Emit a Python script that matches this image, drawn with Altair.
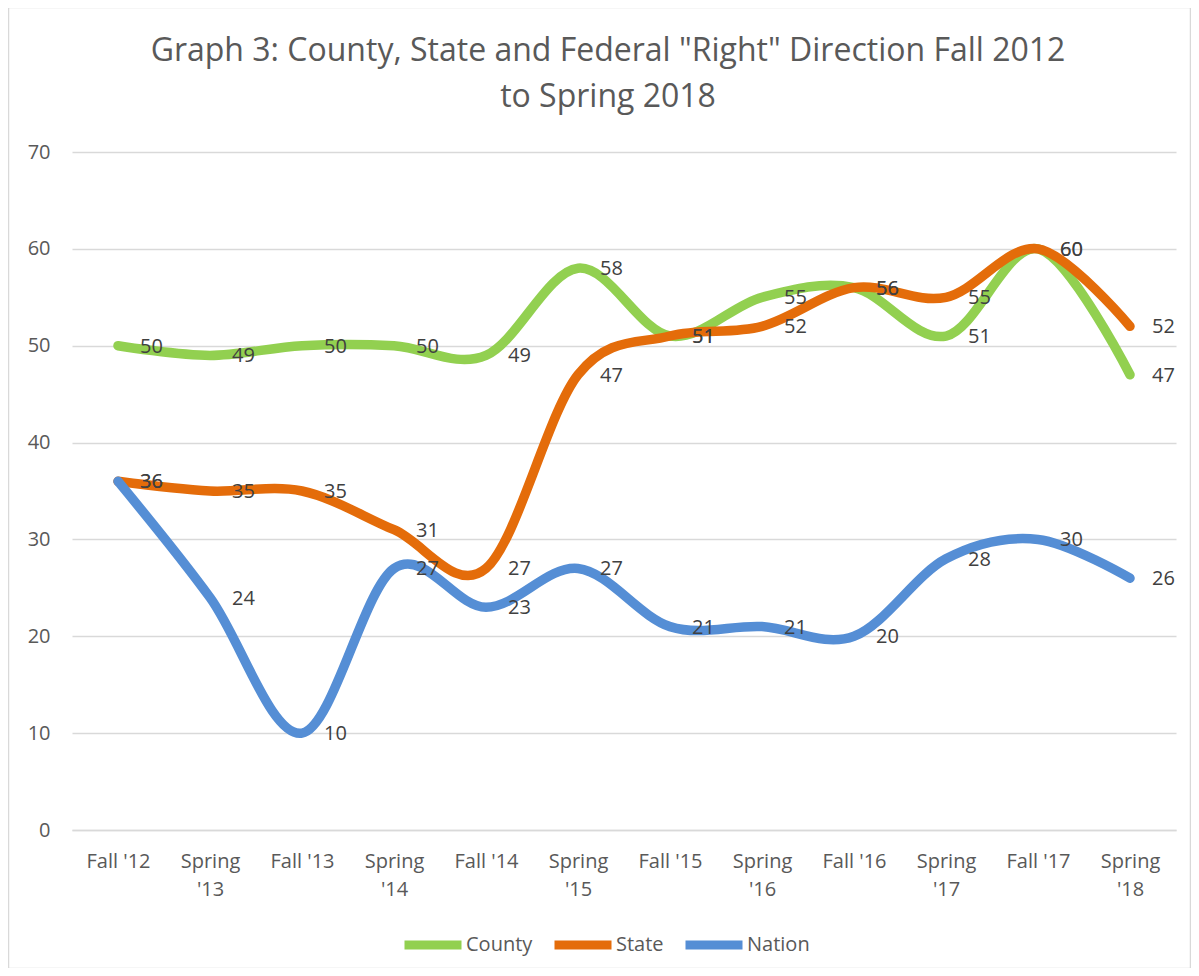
import altair as alt
import pandas as pd

categories = ["Fall '12", "Spring '13", "Fall '13", "Spring '14", "Fall '14", "Spring '15",
              "Fall '15", "Spring '16", "Fall '16", "Spring '17", "Fall '17", "Spring '18"]
series_names = ["County", "State", "Nation"]
county = [50, 49, 50, 50, 49, 58, 51, 55, 56, 51, 60, 47]
state = [36, 35, 35, 31, 27, 47, 51, 52, 56, 55, 60, 52]
nation = [36, 24, 10, 27, 23, 27, 21, 21, 20, 28, 30, 26]
colors = ["#92D050", "#E46C0A", "#558ED5"]
y_ticks = [0, 10, 20, 30, 40, 50, 60, 70]
title_lines = ["Graph 3: County, State and Federal \"Right\" Direction Fall 2012", "to Spring 2018"]

rows = []
for name, vals in zip(series_names, [county, state, nation]):
    for i, (c, v) in enumerate(zip(categories, vals)):
        rows.append({"cat": c, "series": name, "value": v, "order": i})
df = pd.DataFrame(rows)

FONT = "Open Sans"
GRAY = "#595959"

x_enc = alt.X("cat:N", sort=categories,
              scale=alt.Scale(type="point", padding=0.5),
              axis=alt.Axis(title=None, labelAngle=0, labelFontSize=20, labelColor=GRAY,
                            labelFont=FONT, ticks=False, domain=True, domainColor="#D9D9D9",
                            domainWidth=1.5, labelPadding=21, labelBaseline="top",
                            labelLineHeight=28,
                            labelExpr="indexof(datum.label, 'Spring') == 0 ? split(datum.label, ' ') : datum.label"))
y_enc = alt.Y("value:Q", scale=alt.Scale(domain=[0, 70], nice=False),
              axis=alt.Axis(title=None, values=y_ticks, labelFontSize=20, labelColor=GRAY,
                            labelFont=FONT, ticks=False, domain=False, grid=True,
                            gridColor="#D9D9D9", gridWidth=1.5, labelPadding=22))

lines = alt.Chart(df).mark_line(strokeWidth=9.5, interpolate="cardinal", strokeCap="round",
                                strokeJoin="round").encode(
    x=x_enc, y=y_enc,
    color=alt.Color("series:N", sort=series_names,
                    scale=alt.Scale(domain=series_names, range=colors),
                    legend=alt.Legend(title=None, orient="none", legendX=328, legendY=760,
                                      direction="horizontal", symbolType="stroke",
                                      symbolSize=3249, symbolStrokeWidth=9,
                                      labelFontSize=20, labelColor=GRAY, labelFont=FONT,
                                      labelOffset=0, columnPadding=3)),
    detail="series:N",
    order="order:Q",
)

labels = alt.Chart(df).mark_text(align="left", baseline="middle", dx=22, dy=1,
                                 fontSize=20, font=FONT, color="#404040").encode(
    x=alt.X("cat:N", sort=categories, scale=alt.Scale(type="point", padding=0.5)),
    y=alt.Y("value:Q"),
    text="value:Q",
)

one = pd.DataFrame({"a": [0]})
border = alt.Chart(one).mark_rect(
    fill=None, stroke="#D9D9D9", strokeWidth=1.5, clip=False).encode(
    x=alt.value(-63.5), x2=alt.value(1118.5), y=alt.value(-144.5), y2=alt.value(816.5))

title1 = alt.Chart(one).mark_text(fontSize=32, font=FONT, color=GRAY, align="center",
                                  baseline="middle", text=title_lines[0]).encode(
    x=alt.value(536), y=alt.value(-101))
title2 = alt.Chart(one).mark_text(fontSize=32, font=FONT, color=GRAY, align="center",
                                  baseline="middle", text=title_lines[1]).encode(
    x=alt.value(536), y=alt.value(-55))

chart = alt.layer(border, title1, title2, lines, labels).properties(
    width=1104, height=678,
    autosize=alt.AutoSizeParams(type="none"),
    padding={"left": 64, "top": 144, "right": 15, "bottom": 138},
).configure_view(stroke=None)

chart.save("out.html", embed_options={"renderer": "svg", "actions": False})
